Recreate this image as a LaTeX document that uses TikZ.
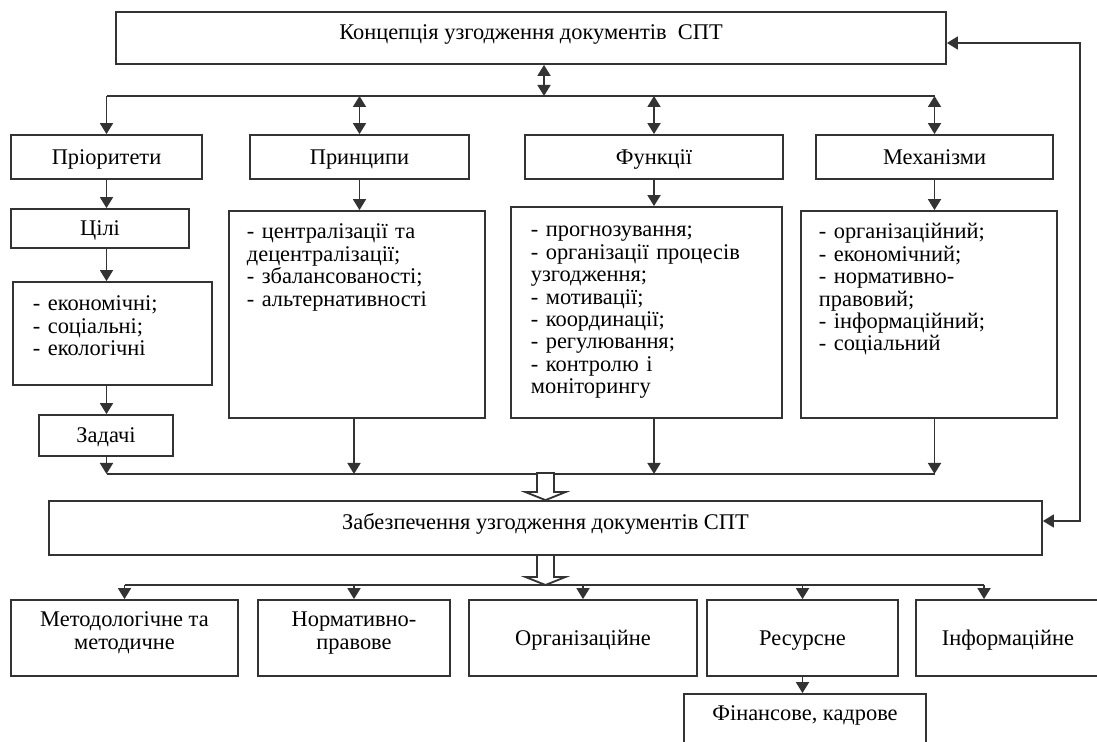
\documentclass[tikz,border=0pt]{standalone}
\usepackage{fontspec}
\setmainfont{Liberation Serif}
\usetikzlibrary{arrows.meta}
\newcommand*{\px   }{0.5pt}
\newcommand*{\busup}{96}
\newcommand*{\buslo}{474}
\newcommand*{\busbt}{585}
\newcommand*{\hollowarrow}[2]{\draw [fill=white] #1 -- ++(-20,-8) -- ++(11.5,0) -- ++(0,-#2) -- ++(17,0) -- ++(0,#2) -- ++(11.5,0) -- cycle;}

\begin{document}
\begin{tikzpicture}[x=\px, y=-\px, font=\fontsize{11.2}{11.2}\selectfont, line width=0.9pt, draw=black!80,
    >={Triangle[length=5.5pt, width=6.5pt]},
    box/.style={draw=black!80, fill=white, inner sep=0pt, text height=9.5pt, text depth=2pt},
    wide/.style={box, text height=6pt, text depth=4.5pt},
    sz/.style 2 args={minimum width=#1*\px, minimum height=#2*\px},
    list/.style={anchor=base west, inner sep=0pt, text width=#1*\px, align=left},
    twoline/.style={anchor=base, inner sep=0pt, align=center}]
    \useasboundingbox (0,0) rectangle (1097,742);
    \clip (0,0) rectangle (1097,742);
        % top level
        \node [wide, sz={830}{52}] (concept) at (531,38) {Концепція узгодження документів\ \ СПТ};
        \node [box, sz={191}{44}] (prio) at (106.5,157) {Пріоритети};
        \node [box, sz={219}{44}] (prin) at (359.5,157) {Принципи};
        \node [box, sz={258}{44}] (func) at (654,157) {Функції};
        \node [box, sz={237}{44}] (mech) at (934.5,157) {Механізми};
        \draw (prio.north |- 0,\busup) -- (mech.north |- 0,\busup);
        \draw [<->] (concept.south -| 544,0) -- (544,\busup);
        \draw [->] (prio.north |- 0,\busup) -- (prio.north);
        \draw [<->] (prin.north |- 0,\busup) -- (prin.north);
        \draw [<->] (func.north |- 0,\busup) -- (func.north);
        \draw [<->] (mech.north |- 0,\busup) -- (mech.north);
        % first column
        \node [box, sz={178}{39}] (goals) at (100,228.5) {Цілі};
        \node [box, sz={199}{103}] (econ) at (112.5,333.5) {};
        \node [list=180] (econlist) at (32,311) {- економічні;\\ - соціальні;\\ - екологічні};
        \node [box, sz={134}{41}] (tasks) at (106,435.5) {Задачі};
        \draw [->] (prio.south) -- (goals.north -| prio.south);
        \draw [->] (goals.south -| prio.south) -- (econ.north -| prio.south);
        \draw [->] (econ.south -| prio.south) -- (tasks.north -| prio.south);
        \draw [->] (tasks.south -| prio.south) -- (prio.south |- 0,\buslo);
        % lists
        \node [box, sz={256}{207}] (prinbox) at (357,314.5) {};
        \node [list=230] (prinlist) at (246,239) {- централізації та\\ децентралізації;\\ - збалансованості;\\ - альтернативності};
        \node [box, sz={271}{211}] (funcbox) at (646.5,312.5) {};
        \node [list=245] (funclist) at (530,237) {- прогнозування;\\ - організації процесів\\ узгодження;\\ - мотивації;\\ - координації;\\ - регулювання;\\ - контролю і\\ моніторингу};
        \node [box, sz={256}{207}] (mechbox) at (929,314.5) {};
        \node [list=230] (mechlist) at (818,239) {- організаційний;\\ - економічний;\\ - нормативно-\\ правовий;\\ - інформаційний;\\ - соціальний};
        \draw [->] (prin.south) -- (prinbox.north -| prin.south);
        \draw [->] (func.south) -- (funcbox.north -| func.south);
        \draw [->] (mech.south) -- (mechbox.north -| mech.south);
        \draw [->] (prinbox.south -| 354,0) -- (354,\buslo);
        \draw [->] (funcbox.south -| func.south) -- (func.south |- 0,\buslo);
        \draw [->] (mechbox.south -| mech.south) -- (mech.south |- 0,\buslo);
        \draw (prio.south |- 0,\buslo) -- (mech.south |- 0,\buslo);
        % provision
        \node [wide, sz={993}{54}] (provision) at (545.5,528) {Забезпечення узгодження документів СПТ};
        \hollowarrow{(provision.north)}{19}
        \draw [<->] (concept.east |- 0,43) -- (1080,43) |- (provision.east |- 0,521);
        % bottom row
        \node [box, sz={227}{76}] (meth) at (124.5,638) {};
        \node [twoline] (methtext) at (124.5,649) {Методологічне та\\ методичне};
        \node [box, sz={192}{76}] (norm) at (354,638) {};
        \node [twoline] (normtext) at (354,649) {Нормативно-\\ правове};
        \node [box, sz={228}{76}] (org) at (583,638) {Організаційне};
        \node [box, sz={191}{76}] (res) at (802.5,638) {Ресурсне};
        \node [box, sz={184}{76}] (info) at (1008,638) {Інформаційне};
        \node [box, sz={242}{60}, text height=6pt, text depth=10pt] (fin) at (805,724) {Фінансове, кадрове};
        \hollowarrow{(provision.south |- 0,\busbt)}{22}
        \draw (meth.north |- 0,\busbt) -- (984,\busbt);
        \draw [->] (meth.north |- 0,\busbt) -- (meth.north);
        \draw [->] (norm.north |- 0,\busbt) -- (norm.north);
        \draw [->] (org.north |- 0,\busbt) -- (org.north);
        \draw [->] (res.north |- 0,\busbt) -- (res.north);
        \draw [->] (984,\busbt) -- (info.north -| 984,0);
        \draw [->] (res.south) -- (fin.north -| res.south);
        %\draw [dashed] (fin.south west) -- (fin.south east);
\end{tikzpicture}
\end{document}
